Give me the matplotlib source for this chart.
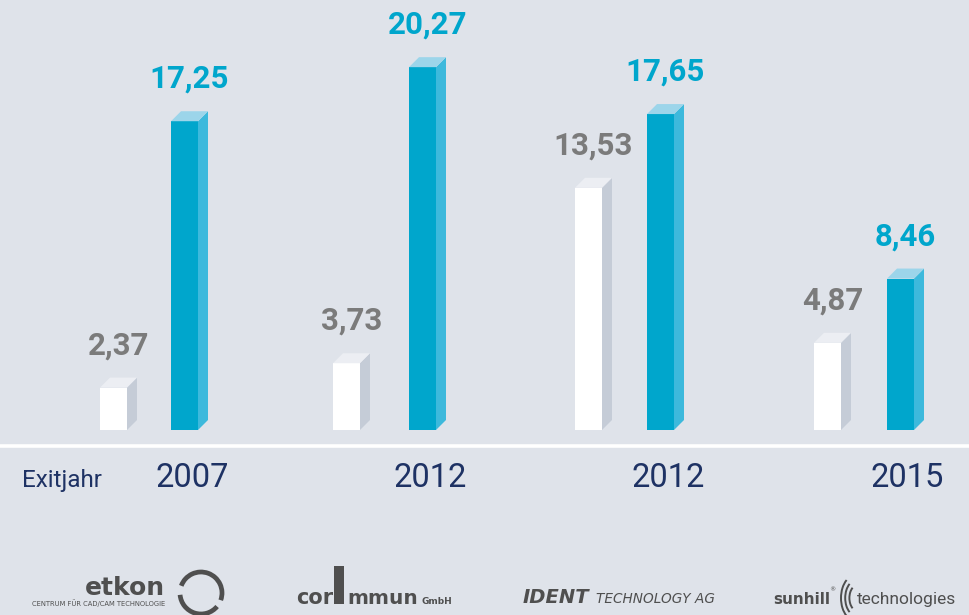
import matplotlib
matplotlib.use("Agg")
import matplotlib.pyplot as plt
from matplotlib.patches import Polygon, Arc, Rectangle

# ---- data ----
years = ["2007", "2012", "2012", "2015"]
entry_values = [2.37, 3.73, 13.53, 4.87]     # white bars
exit_values = [17.25, 20.27, 17.65, 8.46]    # blue bars
entry_labels = ["2,37", "3,73", "13,53", "4,87"]
exit_labels = ["17,25", "20,27", "17,65", "8,46"]
row_label = "Exitjahr"

# ---- layout (pixel based) ----
W, H = 969, 615
BASE = 430          # baseline pixel row
PX_PER_UNIT = 17.9
white_x = [113.5, 346.5, 588.5, 827.5]
blue_x = [184.5, 422.5, 660.5, 900.5]
year_x = [192.5, 430, 668.5, 907]
BW = 27
DX = 10
DY = 10 / PX_PER_UNIT

BG = "#dfe3ea"
BLUE_F, BLUE_S, BLUE_T = "#00a6cc", "#3db9dc", "#9cd5ea"
WHITE_F, WHITE_S, WHITE_T = "#ffffff", "#c5ccd7", "#eceef3"
GREY_TXT = "#7b7b7b"
NAVY = "#1e3264"
LOGO = "#4f4f4f"

plt.rcParams['font.family'] = ['Roboto', 'DejaVu Sans']

fig = plt.figure(figsize=(W / 100, H / 100), dpi=100, facecolor=BG)

# bar axes: y=0 at pixel BASE, top at pixel 0
ax = fig.add_axes([0, (H - BASE) / H, 1, BASE / H])
ax.set_xlim(0, W)
ax.set_ylim(0, BASE / PX_PER_UNIT)
ax.axis("off")
ax.set_facecolor("none")


def bars3d(xs, vals, front, side, top, labels, tcolor):
    ax.bar(xs, vals, width=BW, color=front, zorder=3, linewidth=0)
    for x, v, lab in zip(xs, vals, labels):
        x0, x1 = x - BW / 2, x + BW / 2
        ax.add_patch(Polygon([(x1, 0), (x1 + DX, DY), (x1 + DX, v + DY), (x1, v)],
                             closed=True, facecolor=side, edgecolor="none", zorder=3))
        ax.add_patch(Polygon([(x0, v), (x1, v), (x1 + DX, v + DY), (x0 + DX, v + DY)],
                             closed=True, facecolor=top, edgecolor="none", zorder=3))
        ax.text(x + DX / 2, v + DY + 23.5 / PX_PER_UNIT, lab, ha="center", va="baseline",
                fontsize=22.5, fontweight="bold", color=tcolor, zorder=4)


bars3d(white_x, entry_values, WHITE_F, WHITE_S, WHITE_T, entry_labels, GREY_TXT)
bars3d(blue_x, exit_values, BLUE_F, BLUE_S, BLUE_T, exit_labels, BLUE_F)

# overlay axes in pixel coords
ov = fig.add_axes([0, 0, 1, 1])
ov.set_xlim(0, W)
ov.set_ylim(H, 0)
ov.axis("off")
ov.set_facecolor("none")

ov.plot([0, W], [446, 446], color="white", lw=2.6, solid_capstyle="butt")

ov.text(22, 487, row_label, ha="left", va="baseline", fontsize=17.5, color=NAVY)
for x, y in zip(year_x, years):
    ov.text(x, 487, y, ha="center", va="baseline", fontsize=23.5, color=NAVY)

# ---- logos (text approximations) ----
ov.text(165, 595, "etkon", ha="right", va="baseline", fontsize=18, fontweight="bold",
        color=LOGO, family="DejaVu Sans")
ov.text(165, 606, "CENTRUM FÜR CAD/CAM TECHNOLOGIE", ha="right", va="baseline",
        fontsize=4.9, color=LOGO, family="DejaVu Sans")
ov.add_patch(Arc((201, 593), 42, 42, angle=0, theta1=200, theta2=20, lw=3.4, color=LOGO))
ov.add_patch(Arc((201, 593), 42, 42, angle=0, theta1=40, theta2=175, lw=3.4, color=LOGO))

ov.text(296, 604, "cor", ha="left", va="baseline", fontsize=15, fontweight="bold",
        color=LOGO, family="DejaVu Sans")
ov.add_patch(Rectangle((334, 566), 10, 38, facecolor=LOGO, edgecolor="none"))
ov.text(347, 604, "mmun", ha="left", va="baseline", fontsize=14.5, fontweight="bold",
        color=LOGO, family="DejaVu Sans")
ov.text(422, 604, "GmbH", ha="left", va="baseline", fontsize=6.5, fontweight="bold",
        color=LOGO, family="DejaVu Sans")

ov.text(523, 603, "IDENT", ha="left", va="baseline", fontsize=14, fontweight="bold",
        style="italic", color=LOGO, family="DejaVu Sans")
ov.text(596, 603, "TECHNOLOGY AG", ha="left", va="baseline", fontsize=9.8,
        style="italic", color=LOGO, family="DejaVu Sans")

ov.text(773, 604, "sunhill", ha="left", va="baseline", fontsize=11, fontweight="bold",
        color=LOGO, family="DejaVu Sans")
ov.text(829, 591, "®", ha="left", va="baseline", fontsize=4.5, color=LOGO, family="DejaVu Sans")
for r in [14, 11, 8]:
    ov.add_patch(Arc((855 + (14 - r) * 0.4, 598), r * 2, r * 3.2, theta1=115, theta2=245,
                     lw=1.4, color=LOGO))
ov.text(857, 604, "technologies", ha="left", va="baseline", fontsize=12.5,
        color=LOGO, family="Roboto")

fig.savefig("out.png", dpi=100, facecolor=BG)
